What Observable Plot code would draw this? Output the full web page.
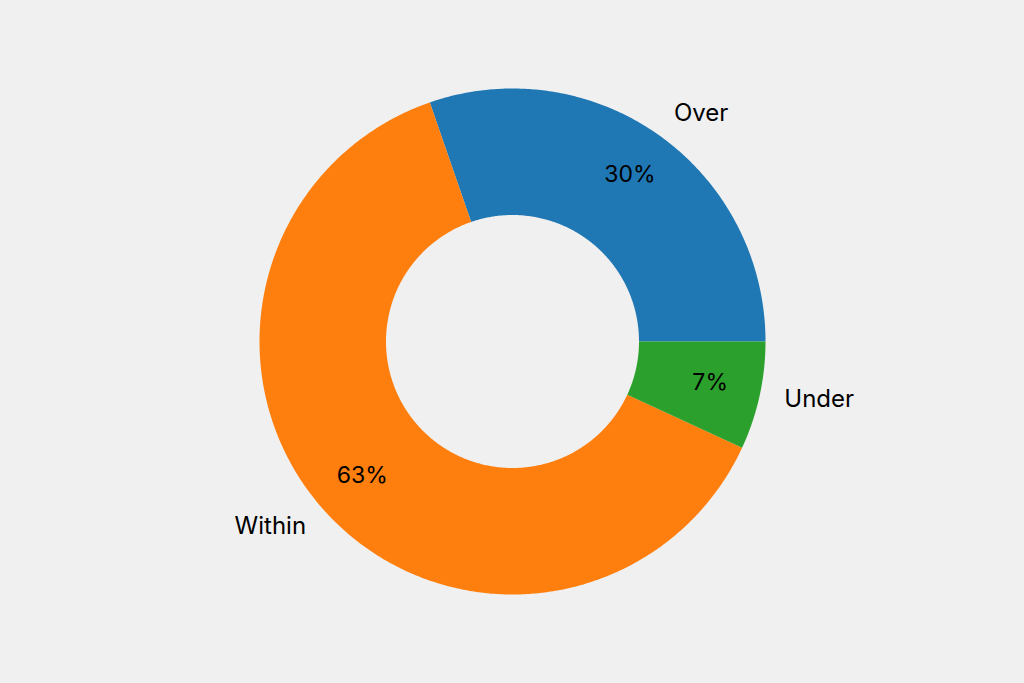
<!DOCTYPE html>
<html><head><meta charset="utf-8">
<script src="https://cdn.jsdelivr.net/npm/d3@7"></script>
<script src="https://cdn.jsdelivr.net/npm/@observablehq/plot@0.6"></script>
<style>html,body{margin:0;padding:0;background:#f0f0f0;} #chart{width:1024px;height:683px;}</style>
</head><body><div id="chart"></div>
<script>
const categories = ["Over", "Within", "Under"];
const values = [30.3, 62.8, 6.9];
const colors = ["#1f77b4", "#ff7f0e", "#2ca02c"];
const pctLabels = ["30%", "63%", "7%"];

const startAngle = 0;
const innerRatio = 0.5;
const pctDistance = 0.8;
const labelDistance = 1.1;

const total = d3.sum(values);
let acc = 0;
const slices = categories.map((c, i) => {
  const a0 = startAngle + acc / total * 360;
  acc += values[i];
  const a1 = startAngle + acc / total * 360;
  return {category: c, value: values[i], pct: pctLabels[i], a0, a1, mid: (a0 + a1) / 2};
});
const rad = d => d * Math.PI / 180;
const pts = [];
for (const s of slices) {
  const n = Math.max(2, Math.ceil((s.a1 - s.a0) / 0.5));
  for (let k = 0; k <= n; k++) { const a = rad(s.a0 + (s.a1 - s.a0) * k / n); pts.push({category: s.category, x: Math.cos(a), y: Math.sin(a)}); }
  for (let k = n; k >= 0; k--) { const a = rad(s.a0 + (s.a1 - s.a0) * k / n); pts.push({category: s.category, x: innerRatio * Math.cos(a), y: innerRatio * Math.sin(a)}); }
}
const labels = slices.map(s => ({
  category: s.category, pct: s.pct,
  lx: labelDistance * Math.cos(rad(s.mid)), ly: labelDistance * Math.sin(rad(s.mid)),
  px: pctDistance * Math.cos(rad(s.mid)), py: pctDistance * Math.sin(rad(s.mid))
}));

const R = 253;
const W = 1024, H = 683;
const plot = Plot.plot({
  width: W, height: H,
  margin: 0,
  style: {background: "#f0f0f0", fontFamily: "Inter, 'Open Sans', sans-serif"},
  x: {domain: [-512 / R, (W - 512) / R], axis: null},
  y: {domain: [-(H - 341) / R, 341 / R], axis: null},
  color: {domain: categories, range: colors},
  marks: [
    Plot.line(pts, {x: "x", y: "y", z: "category", fill: "category", stroke: "none", curve: "linear-closed"}),
    Plot.text(labels, {x: "px", y: "py", dy: -2, text: "pct", fontSize: 23, fontWeight: 400, fill: "#000"}),
    Plot.text(labels.filter(d => d.lx >= 0), {x: "lx", y: "ly", dy: -2, text: "category", fontSize: 24, fontWeight: 400, fill: "#000", textAnchor: "start"}),
    Plot.text(labels.filter(d => d.lx < 0), {x: "lx", y: "ly", dy: -2, text: "category", fontSize: 24, fontWeight: 400, fill: "#000", textAnchor: "end"})
  ]
});
document.getElementById("chart").appendChild(plot);
</script>
</body></html>
